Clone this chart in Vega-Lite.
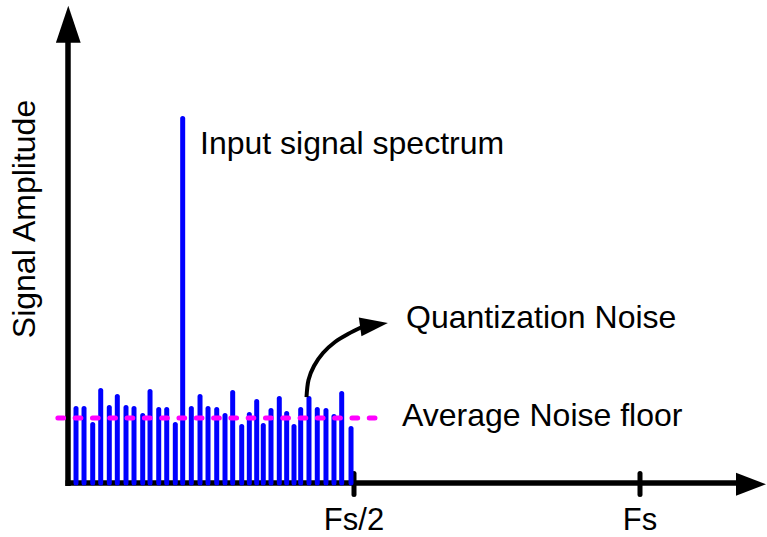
{
  "$schema": "https://vega.github.io/schema/vega-lite/v6.json",
  "width": 767,
  "height": 537,
  "padding": 0,
  "autosize": {"type": "none"},
  "background": "white",
  "config": {"view": {"stroke": null}},
  "datasets": {
    "spectrum": [
      {"freq": 0.0140, "amp": 0.2044}, {"freq": 0.0280, "amp": 0.2044}, {"freq": 0.0432, "amp": 0.1605},
      {"freq": 0.0572, "amp": 0.2538}, {"freq": 0.0722, "amp": 0.2071}, {"freq": 0.0862, "amp": 0.2373},
      {"freq": 0.1014, "amp": 0.2071}, {"freq": 0.1154, "amp": 0.2044}, {"freq": 0.1306, "amp": 0.1852},
      {"freq": 0.1434, "amp": 0.2510}, {"freq": 0.1586, "amp": 0.2016}, {"freq": 0.1726, "amp": 0.2016},
      {"freq": 0.1876, "amp": 0.1605}, {"freq": 0.2005, "amp": 1.0000}, {"freq": 0.2156, "amp": 0.2044},
      {"freq": 0.2308, "amp": 0.2373}, {"freq": 0.2448, "amp": 0.2044}, {"freq": 0.2600, "amp": 0.2016},
      {"freq": 0.2745, "amp": 0.1852}, {"freq": 0.2879, "amp": 0.2483}, {"freq": 0.3037, "amp": 0.1550},
      {"freq": 0.3170, "amp": 0.1879}, {"freq": 0.3299, "amp": 0.2236}, {"freq": 0.3414, "amp": 0.1578},
      {"freq": 0.3549, "amp": 0.1989}, {"freq": 0.3694, "amp": 0.2318}, {"freq": 0.3823, "amp": 0.1907},
      {"freq": 0.3951, "amp": 0.1550}, {"freq": 0.4068, "amp": 0.2016}, {"freq": 0.4213, "amp": 0.2318},
      {"freq": 0.4358, "amp": 0.2016}, {"freq": 0.4510, "amp": 0.1989}, {"freq": 0.4650, "amp": 0.1824},
      {"freq": 0.4785, "amp": 0.2455}, {"freq": 0.4948, "amp": 0.1495}
    ],
    "axisLines": [
      {"name": "y axis", "x1": 0, "x2": 0, "y1": -0.008, "y2": 1.21},
      {"name": "x axis", "x1": -0.0044, "x2": 1.18, "y1": 0, "y2": 0}
    ],
    "ticks": [
      {"freq": 0.5, "lo": -0.0316, "hi": 0.026},
      {"freq": 1.0, "lo": -0.0316, "hi": 0.026}
    ],
    "noiseFloor": [{"from": -0.0177, "to": 0.5367, "level": 0.1783}],
    "curve": [
      {"order": 1, "freq": 0.41696, "amp": 0.2359},
      {"order": 2, "freq": 0.42045, "amp": 0.2826},
      {"order": 3, "freq": 0.43007, "amp": 0.3210},
      {"order": 4, "freq": 0.44580, "amp": 0.3567},
      {"order": 5, "freq": 0.46678, "amp": 0.3868},
      {"order": 6, "freq": 0.48951, "amp": 0.4088},
      {"order": 7, "freq": 0.51399, "amp": 0.4280}
    ],
    "headUp": [{"name": "y arrow", "freq": 0.0005, "amp": 1.2584}],
    "headRight": [{"name": "x arrow", "freq": 1.19406, "amp": -0.0036}],
    "curveHead": [{"freq": 0.53497, "amp": 0.4336}],
    "notes": [
      {"text": "Input signal spectrum", "freq": 0.23077, "amp": 0.9026},
      {"text": "Quantization Noise", "freq": 0.5909, "amp": 0.4244},
      {"text": "Average Noise floor", "freq": 0.5839, "amp": 0.1556}
    ],
    "tickLabels": [
      {"text": "Fs/2", "freq": 0.5, "amp": -0.1289},
      {"text": "Fs", "freq": 1.0, "amp": -0.1289}
    ],
    "ylabel": [{"text": "Signal Amplitude", "freq": -0.0577, "amp": 0.7243}]
  },
  "layer": [
    {
      "data": {"name": "axisLines"},
      "mark": {"type": "rule", "color": "black", "strokeWidth": 5.5},
      "encoding": {
        "x": {"field": "x1", "type": "quantitative", "axis": null, "scale": {"domain": [-0.118881, 1.222028], "nice": false, "zero": false}},
        "x2": {"field": "x2"},
        "y": {"field": "y1", "type": "quantitative", "axis": null, "scale": {"domain": [-0.148148, 1.325103], "nice": false, "zero": false}},
        "y2": {"field": "y2"}
      }
    },
    {
      "data": {"name": "ticks"},
      "mark": {"type": "rule", "color": "black", "strokeWidth": 5, "strokeCap": "round"},
      "encoding": {
        "x": {"field": "freq", "type": "quantitative", "axis": null, "scale": {"domain": [-0.118881, 1.222028], "nice": false, "zero": false}},
        "y": {"field": "lo", "type": "quantitative", "axis": null, "scale": {"domain": [-0.148148, 1.325103], "nice": false, "zero": false}},
        "y2": {"field": "hi"}
      }
    },
    {
      "data": {"name": "headUp"},
      "mark": {"type": "point", "filled": true, "color": "black", "opacity": 1, "strokeWidth": 0, "shape": "M0,-1L0.67,1L-0.67,1Z", "size": 1369},
      "encoding": {
        "x": {"field": "freq", "type": "quantitative", "axis": null, "scale": {"domain": [-0.118881, 1.222028], "nice": false, "zero": false}},
        "y": {"field": "amp", "type": "quantitative", "axis": null, "scale": {"domain": [-0.148148, 1.325103], "nice": false, "zero": false}}
      }
    },
    {
      "data": {"name": "headRight"},
      "mark": {"type": "point", "filled": true, "color": "black", "opacity": 1, "strokeWidth": 0, "shape": "M1,0L-1,-0.77L-1,0.77Z", "size": 900},
      "encoding": {
        "x": {"field": "freq", "type": "quantitative", "axis": null, "scale": {"domain": [-0.118881, 1.222028], "nice": false, "zero": false}},
        "y": {"field": "amp", "type": "quantitative", "axis": null, "scale": {"domain": [-0.148148, 1.325103], "nice": false, "zero": false}}
      }
    },
    {
      "data": {"name": "spectrum"},
      "mark": {"type": "rule", "color": "#0000ff", "strokeWidth": 5, "strokeCap": "round"},
      "encoding": {
        "x": {"field": "freq", "type": "quantitative", "axis": null, "scale": {"domain": [-0.118881, 1.222028], "nice": false, "zero": false}},
        "y": {"field": "amp", "type": "quantitative", "axis": null, "scale": {"domain": [-0.148148, 1.325103], "nice": false, "zero": false}},
        "y2": {"datum": 0}
      }
    },
    {
      "data": {"name": "noiseFloor"},
      "mark": {"type": "rule", "color": "#ff00ff", "strokeWidth": 5, "strokeCap": "round", "strokeDash": [5.7, 11.6]},
      "encoding": {
        "x": {"field": "from", "type": "quantitative", "axis": null, "scale": {"domain": [-0.118881, 1.222028], "nice": false, "zero": false}},
        "x2": {"field": "to"},
        "y": {"field": "level", "type": "quantitative", "axis": null, "scale": {"domain": [-0.148148, 1.325103], "nice": false, "zero": false}}
      }
    },
    {
      "data": {"name": "curve"},
      "mark": {"type": "line", "color": "black", "strokeWidth": 4, "interpolate": "cardinal"},
      "encoding": {
        "x": {"field": "freq", "type": "quantitative", "axis": null, "scale": {"domain": [-0.118881, 1.222028], "nice": false, "zero": false}},
        "y": {"field": "amp", "type": "quantitative", "axis": null, "scale": {"domain": [-0.148148, 1.325103], "nice": false, "zero": false}},
        "order": {"field": "order", "type": "quantitative"}
      }
    },
    {
      "data": {"name": "curveHead"},
      "mark": {"type": "point", "filled": true, "color": "black", "opacity": 1, "strokeWidth": 0, "shape": "M1,0L-1,-0.68L-1,0.68Z", "size": 784, "angle": -8},
      "encoding": {
        "x": {"field": "freq", "type": "quantitative", "axis": null, "scale": {"domain": [-0.118881, 1.222028], "nice": false, "zero": false}},
        "y": {"field": "amp", "type": "quantitative", "axis": null, "scale": {"domain": [-0.148148, 1.325103], "nice": false, "zero": false}}
      }
    },
    {
      "data": {"name": "notes"},
      "mark": {"type": "text", "font": "Liberation Sans", "fontSize": 32, "color": "black", "baseline": "alphabetic", "align": "left"},
      "encoding": {
        "x": {"field": "freq", "type": "quantitative", "axis": null, "scale": {"domain": [-0.118881, 1.222028], "nice": false, "zero": false}},
        "y": {"field": "amp", "type": "quantitative", "axis": null, "scale": {"domain": [-0.148148, 1.325103], "nice": false, "zero": false}},
        "text": {"field": "text", "type": "nominal"}
      }
    },
    {
      "data": {"name": "tickLabels"},
      "mark": {"type": "text", "font": "Liberation Sans", "fontSize": 31, "color": "black", "baseline": "alphabetic", "align": "center"},
      "encoding": {
        "x": {"field": "freq", "type": "quantitative", "axis": null, "scale": {"domain": [-0.118881, 1.222028], "nice": false, "zero": false}},
        "y": {"field": "amp", "type": "quantitative", "axis": null, "scale": {"domain": [-0.148148, 1.325103], "nice": false, "zero": false}},
        "text": {"field": "text", "type": "nominal"}
      }
    },
    {
      "data": {"name": "ylabel"},
      "mark": {"type": "text", "font": "Liberation Sans", "fontSize": 32, "color": "black", "baseline": "alphabetic", "align": "center", "angle": 270},
      "encoding": {
        "x": {"field": "freq", "type": "quantitative", "axis": null, "scale": {"domain": [-0.118881, 1.222028], "nice": false, "zero": false}},
        "y": {"field": "amp", "type": "quantitative", "axis": null, "scale": {"domain": [-0.148148, 1.325103], "nice": false, "zero": false}},
        "text": {"field": "text", "type": "nominal"}
      }
    }
  ]
}
